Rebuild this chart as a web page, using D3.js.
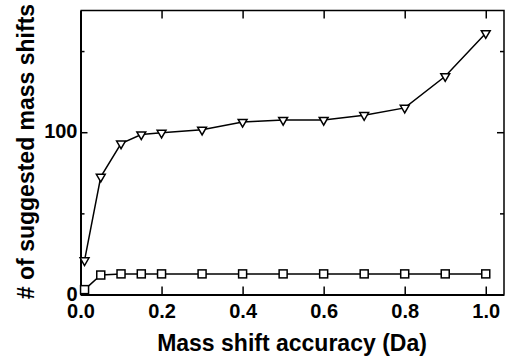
<!DOCTYPE html>
<html lang="en">
<head>
    <meta charset="UTF-8">
    <title>Suggested mass shifts</title>
    <script src="https://d3js.org/d3.v7.min.js"></script>
    <style>
        body {
            margin: 0;
            background: #fff;
        }

        svg text {
            font-family: "Liberation Sans", Arial, sans-serif;
            font-weight: bold;
        }

        .line {
            fill: none;
            stroke: #000;
            stroke-width: 1.5px;
        }

        .marker {
            fill: #fff;
            stroke: #000;
            stroke-width: 1.5px;
        }
    </style>
</head>
<body>
    <div id="chart"></div>

    <script>
        // mass shift accuracy (Da)
        const accuracy = [0.01, 0.05, 0.1, 0.15, 0.2, 0.3, 0.4, 0.5, 0.6, 0.7, 0.8, 0.9, 1.0];
        // series
        const triangleSeries = [21, 72.5, 93, 98.6, 99.6, 101.5, 106.3, 107.5, 107.5, 110.5, 115, 134.5, 161];
        const squareSeries = [3, 12, 12.7, 12.7, 12.7, 12.7, 12.7, 12.7, 12.7, 12.7, 12.7, 12.7, 12.7];

        const xTicks = [0, 0.2, 0.4, 0.6, 0.8, 1.0];
        const yMajorTicks = [0, 100];
        const yMinorTicks = [50, 150];

        const width = 505, height = 360;

        const svg = d3.select("#chart").append("svg")
            .attr("width", width)
            .attr("height", height);

        const x = d3.scaleLinear().domain([0, 1.045]).range([80.5, 504]);
        const y = d3.scaleLinear().domain([0, 175]).range([294.5, 10.5]);

        // frame: top and right
        svg.append("path")
            .attr("d", `M${x.range()[0]},${y.range()[1]}H${x.range()[1]}V${y.range()[0]}`)
            .attr("fill", "none")
            .attr("stroke", "#000")
            .attr("stroke-width", 1.5);

        // bottom axis
        const xAxis = svg.append("g")
            .attr("transform", `translate(0,${y(0)})`)
            .call(d3.axisBottom(x).tickValues(xTicks).tickFormat(d3.format(".1f"))
                .tickSizeInner(-8).tickSizeOuter(0).tickPadding(9));
        xAxis.select(".domain").attr("stroke-width", 2);
        xAxis.selectAll(".tick line").attr("stroke-width", 1.5);
        xAxis.selectAll(".tick text").attr("font-size", 20).attr("fill", "#000");

        // top axis ticks
        const xTop = svg.append("g")
            .attr("transform", `translate(0,${y.range()[1]})`)
            .call(d3.axisTop(x).tickValues(xTicks).tickFormat("").tickSizeInner(-8).tickSizeOuter(0));
        xTop.select(".domain").remove();
        xTop.selectAll(".tick line").attr("stroke-width", 1.5);

        // left axis
        const yAxis = svg.append("g")
            .attr("transform", `translate(${x(0)},0)`)
            .call(d3.axisLeft(y).tickValues(yMajorTicks).tickFormat(d3.format("d"))
                .tickSizeInner(-7).tickSizeOuter(0).tickPadding(3));
        yAxis.select(".domain").attr("stroke-width", 2);
        yAxis.selectAll(".tick line").attr("stroke-width", 1.5);
        yAxis.selectAll(".tick text").attr("font-size", 20).attr("fill", "#000").attr("dy", "0.28em");

        svg.append("g")
            .attr("transform", `translate(${x(0)},0)`)
            .call(d3.axisLeft(y).tickValues(yMinorTicks).tickFormat("").tickSizeInner(-4).tickSizeOuter(0))
            .call(g => g.select(".domain").remove())
            .selectAll(".tick line").attr("stroke-width", 1.5);

        // right axis ticks
        svg.append("g")
            .attr("transform", `translate(${x.range()[1]},0)`)
            .call(d3.axisRight(y).tickValues(yMajorTicks).tickFormat("").tickSizeInner(-7).tickSizeOuter(0))
            .call(g => g.select(".domain").remove())
            .selectAll(".tick line").attr("stroke-width", 1.5);
        svg.append("g")
            .attr("transform", `translate(${x.range()[1]},0)`)
            .call(d3.axisRight(y).tickValues(yMinorTicks).tickFormat("").tickSizeInner(-4).tickSizeOuter(0))
            .call(g => g.select(".domain").remove())
            .selectAll(".tick line").attr("stroke-width", 1.5);

        // axis titles
        svg.append("text")
            .attr("x", 292)
            .attr("y", 350.5)
            .attr("text-anchor", "middle")
            .attr("font-size", 23)
            .text("Mass shift accuracy (Da)");

        svg.append("text")
            .attr("transform", "translate(33.5,151.5) rotate(-90)")
            .attr("text-anchor", "middle")
            .attr("font-size", 23)
            .text("# of suggested mass shifts");

        const line = d3.line()
            .x((d, i) => x(accuracy[i]))
            .y(d => y(d));

        svg.append("path").datum(squareSeries).attr("class", "line").attr("d", line);
        svg.append("path").datum(triangleSeries).attr("class", "line").attr("d", line);

        // square markers
        svg.selectAll(".sq")
            .data(squareSeries)
            .enter().append("rect")
            .attr("class", "marker")
            .attr("x", (d, i) => x(accuracy[i]) - 4)
            .attr("y", d => y(d) - 4)
            .attr("width", 8)
            .attr("height", 8);

        // downward triangle markers
        const tri = d3.symbol().type(d3.symbolTriangle).size(34);
        svg.selectAll(".tri")
            .data(triangleSeries)
            .enter().append("path")
            .attr("class", "marker")
            .attr("d", tri)
            .attr("transform", (d, i) => `translate(${x(accuracy[i])},${y(d)}) rotate(180)`);
    </script>
</body>
</html>
